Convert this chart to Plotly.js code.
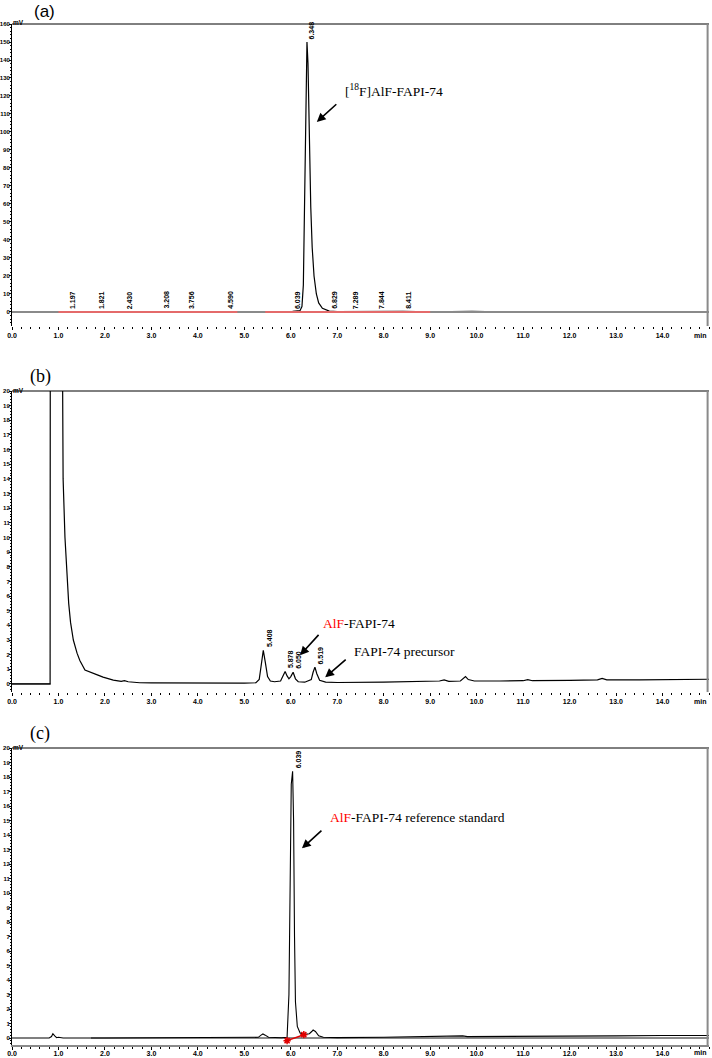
<!DOCTYPE html>
<html>
<head>
<meta charset="utf-8">
<script src="https://cdn.plot.ly/plotly-3.0.1.min.js"></script>
<style>html,body{margin:0;padding:0;background:#fff;}#chart{width:712px;height:1058px;}</style>
</head>
<body>
<div id="chart"></div>
<script>
// ---------- data ----------
// Panel (a): radio-HPLC of [18F]AlF-FAPI-74
const timeA = [0, 1.0, 1.197, 1.5, 1.821, 2.2, 2.430, 3.0, 3.208, 3.5, 3.756, 4.2, 4.590, 5.0, 5.5, 6.039, 6.20, 6.24, 6.27, 6.30, 6.32, 6.348, 6.37, 6.40, 6.43, 6.46, 6.50, 6.55, 6.60, 6.68, 6.80, 6.829, 7.0, 7.289, 7.844, 8.411, 9.0, 9.6, 9.9, 10.5, 15.0];
const signalA = [0, 0, 0.3, 0, 0.3, 0, 0.3, 0, 0.3, 0, 0.3, 0, 0.3, 0, 0, 0.3, 0.8, 3, 15, 65, 125, 150, 138, 95, 58, 36, 20, 10, 5, 2, 0.6, 0.5, 0.2, 0.3, 0.3, 0.3, 0, 0.4, 0.3, 0, 0];
const peakLabelsA = ['1.197', '1.821', '2.430', '3.208', '3.756', '4.590', '6.039', '6.348', '6.829', '7.289', '7.844', '8.411'];
const peakHeightsA = [0, 0, 0, 0, 0, 0, 0, 150, 0, 0, 0, 0];
const integStartA = [1.0, 5.45];
const integEndA = [4.85, 9.0];

// Panel (b): UV chromatogram of product
const timeB = [0, 0.82, 0.83, 0.84, 1.07, 1.09, 1.10, 1.14, 1.18, 1.22, 1.26, 1.32, 1.40, 1.46, 1.57, 1.71, 1.85, 1.96, 2.18, 2.35, 2.42, 2.50, 2.75, 3.0, 3.5, 4.0, 4.5, 5.0, 5.25, 5.32, 5.36, 5.408, 5.45, 5.50, 5.56, 5.65, 5.78, 5.84, 5.878, 5.92, 5.96, 6.00, 6.050, 6.10, 6.16, 6.30, 6.44, 6.48, 6.519, 6.56, 6.62, 6.75, 7.0, 8.0, 9.0, 9.2, 9.3, 9.4, 9.65, 9.72, 9.76, 9.82, 9.95, 10.5, 11.0, 11.1, 11.2, 12.0, 12.6, 12.7, 12.8, 13.5, 14.0, 15.0];
const signalB = [0, 0, 60, 80, 80, 20, 14, 10, 7.6, 5.5, 4.2, 3.0, 2.1, 1.6, 0.95, 0.75, 0.6, 0.47, 0.26, 0.18, 0.22, 0.15, 0.08, 0.07, 0.06, 0.05, 0.05, 0.06, 0.08, 0.3, 1.2, 2.3, 1.5, 0.5, 0.2, 0.15, 0.2, 0.55, 0.85, 0.55, 0.35, 0.5, 0.8, 0.35, 0.15, 0.12, 0.3, 0.8, 1.15, 0.7, 0.25, 0.12, 0.1, 0.12, 0.15, 0.2, 0.28, 0.18, 0.2, 0.4, 0.5, 0.3, 0.2, 0.2, 0.22, 0.3, 0.22, 0.25, 0.28, 0.38, 0.28, 0.28, 0.3, 0.32];
const peakLabelsB = ['5.408', '5.878', '6.050', '6.519'];
const peakHeightsB = [2.3, 0.85, 0.8, 1.15];

// Panel (c): UV chromatogram of reference standard
const timeC = [0, 0.80, 0.85, 0.88, 0.92, 0.96, 1.0, 1.1, 2.0, 3.0, 4.0, 5.0, 5.30, 5.36, 5.40, 5.45, 5.52, 5.80, 5.92, 5.96, 5.99, 6.01, 6.039, 6.06, 6.08, 6.10, 6.14, 6.20, 6.30, 6.40, 6.45, 6.48, 6.53, 6.60, 6.70, 7.0, 8.0, 9.0, 9.5, 9.7, 9.8, 10.5, 11.0, 12.0, 13.0, 14.0, 15.0];
const signalC = [0, 0, 0.1, 0.3, 0.15, 0.02, 0.05, 0, 0, 0, 0, 0.02, 0.05, 0.2, 0.28, 0.2, 0.05, 0.02, 0.05, 3, 12, 17.5, 18.4, 15, 7, 2.5, 0.8, 0.35, 0.25, 0.3, 0.45, 0.55, 0.45, 0.15, 0.05, 0.03, 0.05, 0.08, 0.1, 0.15, 0.1, 0.1, 0.12, 0.15, 0.15, 0.17, 0.18];
const peakLabelsC = ['6.039'];
const peakHeightsC = [18.4];
const integTimeC = [5.92, 6.28];
const integValC = [-0.18, 0.23];

// axis ticks
const xTicks = [0, 1, 2, 3, 4, 5, 6, 7, 8, 9, 10, 11, 12, 13, 14];
const xTickText = xTicks.map(v => v.toFixed(1));
const yTicksA = [0, 10, 20, 30, 40, 50, 60, 70, 80, 90, 100, 110, 120, 130, 140, 150, 160];
const yTicksBC = [0, 1, 2, 3, 4, 5, 6, 7, 8, 9, 10, 11, 12, 13, 14, 15, 16, 17, 18, 19, 20];

// ---------- traces ----------
const traces = [];
// panel a
traces.push({x: timeA, y: signalA, xaxis: 'x', yaxis: 'y', mode: 'lines', line: {color: '#000', width: 1.2}, hoverinfo: 'skip'});
traces.push({x: [0, 15], y: [0, 0], xaxis: 'x', yaxis: 'y', mode: 'lines', line: {color: '#8a8a8a', width: 2}, hoverinfo: 'skip'});
integStartA.forEach((s, i) => {
  traces.push({x: [s, integEndA[i]], y: [0, 0], xaxis: 'x', yaxis: 'y', mode: 'lines', line: {color: '#e46a6a', width: 2}, hoverinfo: 'skip'});
});
// panel b
traces.push({x: [0, 0.83], y: [0, 0], xaxis: 'x2', yaxis: 'y2', mode: 'lines', line: {color: '#8a8a8a', width: 2}, hoverinfo: 'skip'});
traces.push({x: timeB, y: signalB, xaxis: 'x2', yaxis: 'y2', mode: 'lines', line: {color: '#000', width: 1.2}, hoverinfo: 'skip'});
// panel c
traces.push({x: [1.7, 15], y: [0, 0], xaxis: 'x3', yaxis: 'y3', mode: 'lines', line: {color: '#8a8a8a', width: 2}, hoverinfo: 'skip'});
traces.push({x: timeC, y: signalC, xaxis: 'x3', yaxis: 'y3', mode: 'lines', line: {color: '#000', width: 1.1}, hoverinfo: 'skip'});
traces.push({x: integTimeC, y: integValC, xaxis: 'x3', yaxis: 'y3', mode: 'lines+markers', line: {color: '#e00000', width: 1.5}, marker: {symbol: 'asterisk-open', size: 6, color: '#e00000', line: {color: '#e00000', width: 1.5}}, hoverinfo: 'skip'});

// ---------- layout ----------
const smallFam = 'Liberation Sans Narrow, Liberation Sans, Arial, sans-serif';
const tickFont = {family: smallFam, size: 7, color: '#000', weight: 700};
function xAxis(anchor, showLine, standoff) {
  return {
    anchor: anchor, range: [0, 15], tickmode: 'array', tickvals: xTicks, ticktext: xTickText,
    ticks: 'outside', ticklen: 3, tickwidth: 1, tickcolor: '#000',
    minor: {tickmode: 'linear', tick0: 0, dtick: 0.2, ticks: 'outside', ticklen: 2, tickcolor: '#000', showgrid: false},
    showgrid: false, zeroline: false, showline: showLine, linecolor: '#8a8a8a', linewidth: 2,
    tickfont: tickFont, ticklabelstandoff: standoff, fixedrange: true
  };
}
function yAxis(anchor, domain, range, ticks, minorStep) {
  return {
    anchor: anchor, domain: domain, range: range, tickmode: 'array', tickvals: ticks, ticktext: ticks.map(String),
    ticks: 'outside', ticklen: 2, tickwidth: 1, tickcolor: '#000',
    minor: {tickmode: 'linear', tick0: 0, dtick: minorStep, ticks: 'outside', ticklen: 1.5, tickcolor: '#000', showgrid: false},
    showgrid: false, zeroline: false, showline: true, linecolor: '#000', linewidth: 1,
    tickfont: {family: smallFam, size: 6, color: '#000', weight: 700},
    ticklabelstandoff: -2, fixedrange: true
  };
}

const H = 1058;
const domA = [1 - 326 / H, 1 - 24 / H];
const domB = [1 - 692 / H, 1 - 391 / H];
const domC = [1 - 1045 / H, 1 - 748 / H];

const annotations = [];
function peakLabels(labels, heights, xref, yref) {
  labels.forEach((lbl, i) => {
    annotations.push({
      x: Number(lbl), y: heights[i], xref: xref, yref: yref, text: lbl, showarrow: false,
      textangle: -90, xanchor: 'left', yanchor: 'bottom', xshift: 0, yshift: 1,
      font: {family: smallFam, size: 7, color: '#000', weight: 700}
    });
  });
}
peakLabels(peakLabelsA, peakHeightsA, 'x', 'y');
peakLabels(peakLabelsB, peakHeightsB, 'x2', 'y2');
peakLabels(peakLabelsC, peakHeightsC, 'x3', 'y3');

const serif = {family: 'Liberation Serif, Times New Roman, serif', size: 13.5, color: '#000'};
// compound labels
annotations.push({x: 7.12, y: 123.3, xref: 'x', yref: 'y', text: '[<sup>18</sup>F]AlF-FAPI-74', showarrow: false, xanchor: 'left', yanchor: 'middle', font: serif});
annotations.push({x: 6.65, y: 4.16, xref: 'x2', yref: 'y2', text: '<span style="color:#ff0000">AlF</span>-FAPI-74', showarrow: false, xanchor: 'left', yanchor: 'middle', font: serif});
annotations.push({x: 7.32, y: 2.23, xref: 'x2', yref: 'y2', text: 'FAPI-74 precursor', showarrow: false, xanchor: 'left', yanchor: 'middle', font: serif});
annotations.push({x: 6.80, y: 15.2, xref: 'x3', yref: 'y3', text: '<span style="color:#ff0000">AlF</span>-FAPI-74 reference standard', showarrow: false, xanchor: 'left', yanchor: 'middle', font: serif});
// arrows
const arrowStyle = {showarrow: true, arrowhead: 2, arrowsize: 1.1, arrowwidth: 1.6, arrowcolor: '#000', text: ' ', axref: 'pixel', ayref: 'pixel', font: {size: 1}};
annotations.push(Object.assign({x: 6.56, y: 105.6, xref: 'x', yref: 'y', ax: 21, ay: -19}, arrowStyle));
annotations.push(Object.assign({x: 6.20, y: 1.96, xref: 'x2', yref: 'y2', ax: 20, ay: -22}, arrowStyle));
annotations.push(Object.assign({x: 6.74, y: 0.45, xref: 'x2', yref: 'y2', ax: 22, ay: -19}, arrowStyle));
annotations.push(Object.assign({x: 6.24, y: 13.08, xref: 'x3', yref: 'y3', ax: 21, ay: -19}, arrowStyle));

// panel letters
annotations.push({x: 20 / 697, y: 1 - 12 / H, xref: 'paper', yref: 'paper', text: '(a)', showarrow: false, xanchor: 'left', yanchor: 'middle', font: {family: 'Liberation Sans, Arial, sans-serif', size: 17, color: '#000'}});
annotations.push({x: 16 / 697, y: 1 - 377 / H, xref: 'paper', yref: 'paper', text: '(b)', showarrow: false, xanchor: 'left', yanchor: 'middle', font: {family: 'Liberation Serif, Times New Roman, serif', size: 18, color: '#000'}});
annotations.push({x: 16 / 697, y: 1 - 733 / H, xref: 'paper', yref: 'paper', text: '(c)', showarrow: false, xanchor: 'left', yanchor: 'middle', font: {family: 'Liberation Serif, Times New Roman, serif', size: 18, color: '#000'}});

// unit labels
[['x', 'y', -4], ['x2', 'y2', -4], ['x3', 'y3', -2]].forEach(([xr, yr, ys]) => {
  annotations.push({x: 0, y: 1, xref: xr + ' domain', yref: yr + ' domain', text: 'mV', showarrow: false, xanchor: 'left', yanchor: 'middle', xshift: -1, yshift: 1, font: {family: smallFam, size: 6.5, color: '#000', weight: 700}});
  annotations.push({x: 1, y: 0, xref: xr + ' domain', yref: yr + ' domain', text: 'min', showarrow: false, xanchor: 'right', yanchor: 'top', xshift: -1, yshift: ys, font: tickFont});
});

const shapes = [];
[['x', 'y'], ['x2', 'y2'], ['x3', 'y3']].forEach(([xr, yr]) => {
  shapes.push({type: 'line', xref: xr + ' domain', yref: yr + ' domain', x0: 0, x1: 1, y0: 1, y1: 1, line: {color: '#000', width: 1}});
  shapes.push({type: 'line', xref: xr + ' domain', yref: yr + ' domain', x0: 0.998, x1: 0.998, y0: 0, y1: 1, line: {color: '#8a8a8a', width: 2}});
});

const layout = {
  width: 712, height: 1058,
  margin: {l: 12, r: 3, t: 0, b: 0, pad: 0},
  paper_bgcolor: '#fff', plot_bgcolor: '#fff',
  showlegend: false,
  xaxis: xAxis('y', false, 0),
  xaxis2: xAxis('y2', false, 0),
  xaxis3: xAxis('y3', true, -2),
  yaxis: yAxis('x', domA, [-7.8, 160], yTicksA, 2),
  yaxis2: yAxis('x2', domB, [-0.55, 20], yTicksBC, 0.2),
  yaxis3: yAxis('x3', domC, [-0.48, 20], yTicksBC, 0.2),
  annotations: annotations,
  shapes: shapes
};

Plotly.newPlot('chart', traces, layout, {displayModeBar: false, staticPlot: true});
</script>
</body>
</html>
